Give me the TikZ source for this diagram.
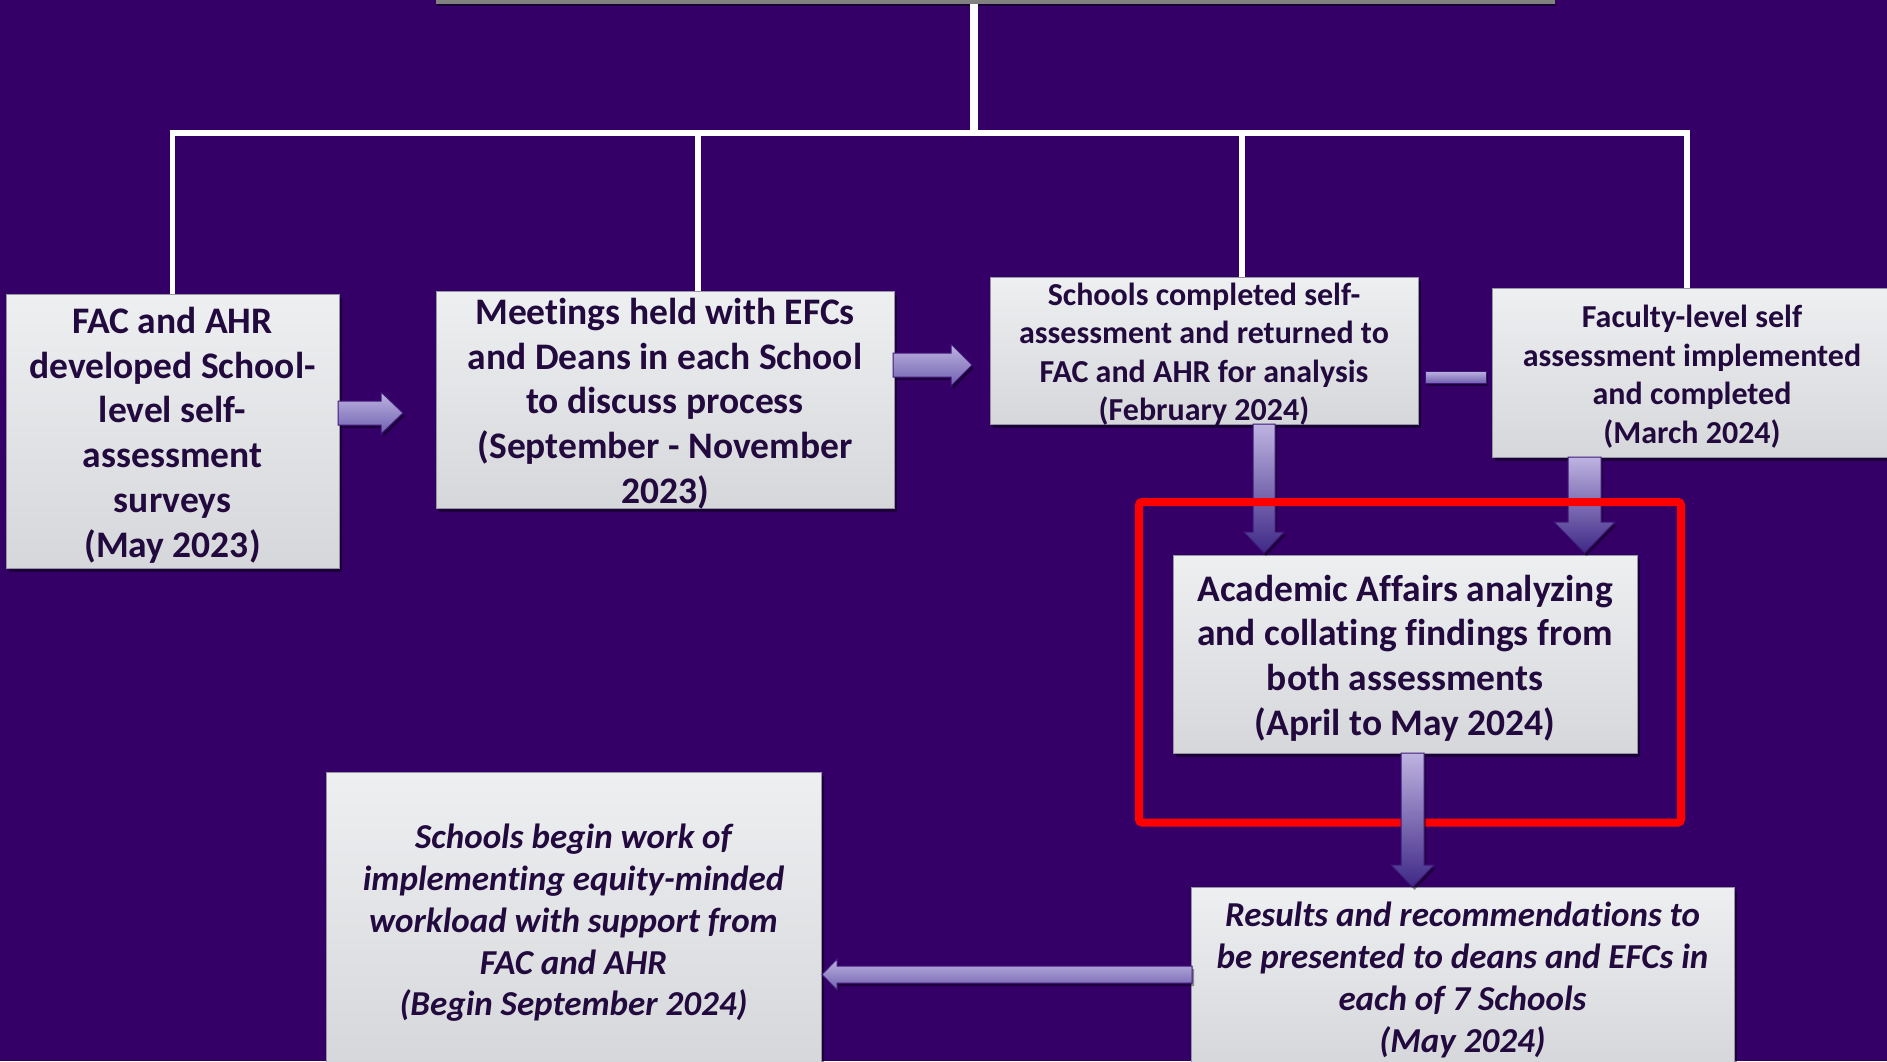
\documentclass[tikz,border=0pt]{standalone}
\usepackage{fontspec}
\setmainfont{Carlito}[Ligatures=NoCommon]
\usetikzlibrary{shadows}
\definecolor{bg}{RGB}{52,0,104}
\definecolor{txt}{RGB}{34,10,62}
\definecolor{boxtop}{RGB}{238,239,241}
\definecolor{boxbot}{RGB}{214,215,218}
\definecolor{boxline}{RGB}{150,150,162}
\definecolor{arrtop}{RGB}{190,180,225}
\definecolor{arrmid}{RGB}{112,96,176}
\definecolor{arrbot}{RGB}{62,40,134}
\definecolor{arrline}{RGB}{64,24,124}
\definecolor{bartop}{RGB}{150,150,150}
\definecolor{barbot}{RGB}{128,128,128}
\tikzset{
  stepbox/.style={draw=boxline, line width=0.8pt, top color=boxtop, bottom color=boxbot,
    inner sep=0pt,
    drop shadow={shadow xshift=3pt, shadow yshift=-4pt, opacity=0.45, fill=black}},
  boxtext/.style={inner sep=0pt, align=center, text=txt, yshift=-4pt},
  bigtxt/.style={font=\bfseries\fontsize{37.5}{44.8}\selectfont},
  midtxt/.style={font=\bfseries\fontsize{32}{38.5}\selectfont},
  itxt/.style={font=\bfseries\itshape\fontsize{35}{41.8}\selectfont},
  tree/.style={draw=white, line width=5.5pt},
  harrow/.style={draw=arrline, line width=1pt, top color=arrtop, bottom color=arrmid,
    drop shadow={shadow xshift=2pt, shadow yshift=-3pt, opacity=0.4, fill=black}},
  varrow/.style={draw=arrline, line width=1pt, top color=arrtop, bottom color=arrbot,
    drop shadow={shadow xshift=2pt, shadow yshift=-3pt, opacity=0.4, fill=black}},
  redframe/.style={draw=red, line width=8pt, rounded corners=3pt},
}
\begin{document}
\begin{tikzpicture}[x=1pt,y=-1pt]
\useasboundingbox (0,0) rectangle (1887,1061);
\fill[bg] (0,0) rectangle (1887,1061);
\clip (0,0) rectangle (1887,1061);

% top bar (bottom of the title box)
\node[draw=none, top color=bartop, bottom color=barbot, inner sep=0pt,
  minimum width=1119pt, minimum height=40pt, anchor=south,
  drop shadow={shadow xshift=1pt, shadow yshift=-2pt, opacity=0.5, fill=black}] (top) at (995.5,4) {};

% tree lines
\coordinate (hub) at (973.5,133);
\coordinate (d2) at (698,133);
\coordinate (d3) at (1242,133);
\coordinate (d4) at (1687,133);
\draw[tree, line width=8pt] (top.south -| hub) -- (hub);
\draw[tree] (169.5,133) -- (1689.5,133);

% boxes
\node[stepbox, minimum width=333pt, minimum height=274pt] (b1) at (172.5,431) {};
\node[stepbox, minimum width=458pt, minimum height=217pt] (b2) at (665,399.5) {};
\node[stepbox, minimum width=428pt, minimum height=147pt] (b3) at (1204,350.5) {};
\node[stepbox, minimum width=400pt, minimum height=169pt] (b4) at (1692,372.5) {};
\node[stepbox, minimum width=464pt, minimum height=198pt] (b5) at (1405,654) {};
\node[stepbox, minimum width=495pt, minimum height=294pt] (b6) at (573.5,919) {};
\node[stepbox, minimum width=543pt, minimum height=178pt] (b7) at (1462.5,976) {};

% box texts
\node[boxtext, bigtxt] (t1) at (b1.center)
  {FAC and AHR\\developed School-\\level self-\\assessment\\surveys\\(May 2023)};
\node[boxtext, bigtxt] (t2) at (b2.center)
  {Meetings held with EFCs\\and Deans in each School\\to discuss process\\(September - November\\2023)};
\node[boxtext, midtxt] (t3) at (b3.center)
  {Schools completed self-\\assessment and returned to\\FAC and AHR for analysis\\(February 2024)};
\node[boxtext, midtxt] (t4) at (b4.center)
  {Faculty-level self\\assessment implemented\\and completed\\(March 2024)};
\node[boxtext, bigtxt] (t5) at (b5.center)
  {Academic Affairs analyzing\\and collating findings from\\both assessments\\(April to May 2024)};
\node[boxtext, itxt] (t6) at (b6.center)
  {Schools begin work of\\implementing equity-minded\\workload with support from\\FAC and AHR\\(Begin September 2024)};
\node[boxtext, itxt] (t7) at (b7.center)
  {Results and recommendations to\\be presented to deans and EFCs in\\each of 7 Schools\\(May 2024)};

% drops
\draw[tree] (b1.north |- hub) -- (b1.north);
\draw[tree] (d2) -- (d2 |- b2.north);
\draw[tree] (d3) -- (d3 |- b3.north);
\draw[tree] (d4) -- (d4 |- b4.north);

% block arrows
\path[harrow] (338,401) -- (381,401) -- (381,392) -- (403,413) -- (381,434) -- (381,425) -- (338,425) -- cycle;
\path[harrow] (893,353) -- (951,353) -- (951,344) -- (972,365) -- (951,386) -- (951,377) -- (893,377) -- cycle;
\path[harrow] (1425,371) rectangle (1486,383);
\path[varrow] (1253,424) -- (1275,424) -- (1275,532) -- (1284,532) -- (1264,553) -- (1244,532) -- (1253,532) -- cycle;
\path[varrow] (1568,457) -- (1601,457) -- (1601,522) -- (1615,522) -- (1584.5,553) -- (1554,522) -- (1568,522) -- cycle;

% red highlight frame
\draw[redframe] (1139,502) rectangle (1681,822.5);

\path[varrow] (1401,753) -- (1424,753) -- (1424,865) -- (1434,865) -- (1412.5,887) -- (1391,865) -- (1401,865) -- cycle;
\path[harrow] (1192,966) -- (837,966) -- (837,959) -- (822,974.5) -- (837,990) -- (837,983) -- (1192,983) -- cycle;
\end{tikzpicture}
\end{document}
